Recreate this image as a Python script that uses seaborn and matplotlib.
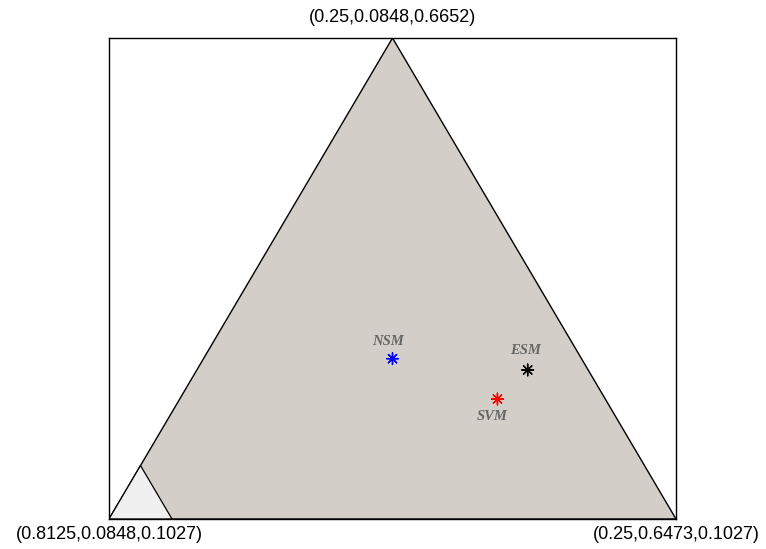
import numpy as np
import pandas as pd
import matplotlib
matplotlib.use("Agg")
import matplotlib.pyplot as plt
import seaborn as sns

# Corners of the plotted sub-simplex (x1, x2, x3)
corner_left = [0.8125, 0.0848, 0.1027]
corner_right = [0.25, 0.6473, 0.1027]
corner_top = [0.25, 0.0848, 0.6652]
corner_labels = ["(0.8125,0.0848,0.1027)", "(0.25,0.6473,0.1027)", "(0.25,0.0848,0.6652)"]

# Corner region where x1 >= 0.75
region_x1 = [0.8125, 0.75, 0.75]
region_x2 = [0.0848, 0.1473, 0.0848]
region_x3 = [0.1027, 0.1027, 0.1652]

# Model positions
models = ["NSM", "ESM", "SVM"]
m_x1 = [0.4375, 0.310, 0.357]
m_x2 = [0.2723, 0.413, 0.400]
m_x3 = [0.2902, 0.277, 0.243]
colors = ["#0000FF", "#000000", "#FF0000"]

lo = np.array([corner_right[0], corner_left[1], corner_left[2]])
span = 1.0 - lo.sum()


def to_xy(x1, x2, x3):
    x2 = np.asarray(x2, float)
    x3 = np.asarray(x3, float)
    wb = (x2 - lo[1]) / span
    wc = (x3 - lo[2]) / span
    return wb + 0.5 * wc, wc


sns.set_style("white")
fig = plt.figure(figsize=(7.66, 5.49), dpi=100)
ax = fig.add_axes([109 / 766, 30 / 549, 567 / 766, 481 / 549])

cx, cy = to_xy(*np.array([corner_left, corner_right, corner_top]).T)
ax.fill(cx, cy, facecolor="#D3CEC7", edgecolor="black", linewidth=1.0, zorder=1)

rx, ry = to_xy(region_x1, region_x2, region_x3)
ax.fill(rx, ry, facecolor="#F0F0F0", edgecolor="black", linewidth=0.9, zorder=2)

mx, my = to_xy(m_x1, m_x2, m_x3)
df = pd.DataFrame({"model": models, "X": mx, "Y": my})
sns.scatterplot(data=df, x="X", y="Y", hue="model", palette=dict(zip(models, colors)),
                marker=(8, 2, 0), s=70, linewidth=1.0, legend=False, ax=ax, zorder=3)

offsets = {"NSM": (-4, 17), "ESM": (-2, 19), "SVM": (-5, -17)}
for name, x, y in zip(models, mx, my):
    dx, dy = offsets[name]
    ax.annotate(name, (x, y), xytext=(dx, dy), textcoords="offset pixels",
                ha="center", va="center", fontsize=10.5, fontstyle="italic",
                fontweight="bold", family="Liberation Serif", color="#666666")

ax.set_xlim(0, 1)
ax.set_ylim(0, 1)
ax.set_xticks([])
ax.set_yticks([])
ax.set_xlabel("")
ax.set_ylabel("")
for sp in ax.spines.values():
    sp.set_visible(True)
    sp.set_color("black")
    sp.set_linewidth(1.0)

lab_font = dict(fontsize=13, family="Liberation Sans", color="black")
ax.text(cx[0], -0.033, corner_labels[0], ha="center", va="center", **lab_font)
ax.text(cx[1], -0.033, corner_labels[1], ha="center", va="center", **lab_font)
ax.text(cx[2], 1.042, corner_labels[2], ha="center", va="center", **lab_font)

fig.savefig("out.png", dpi=100)
